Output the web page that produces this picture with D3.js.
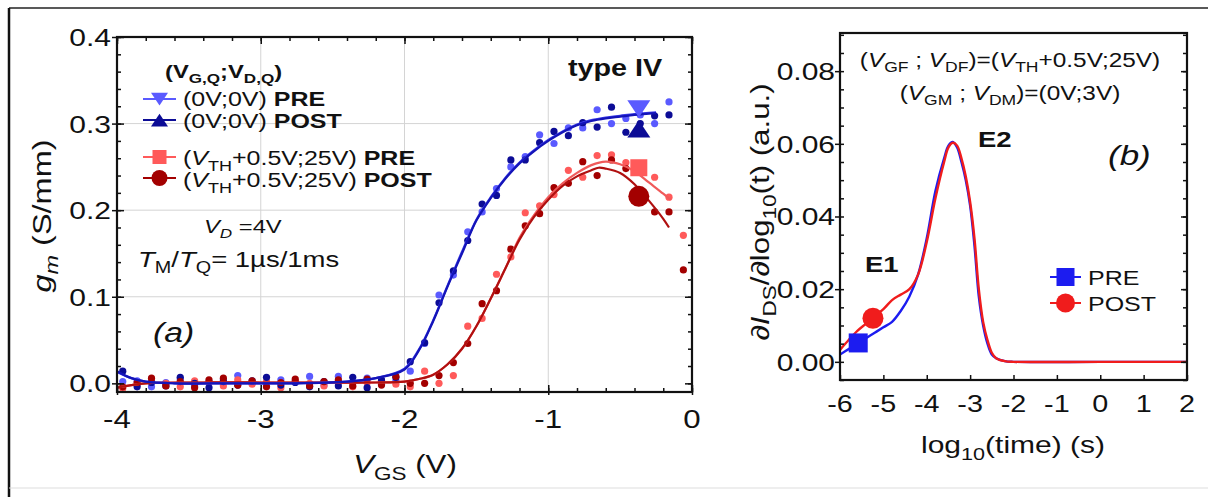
<!DOCTYPE html>
<html>
<head>
<meta charset="utf-8">
<script src="https://cdn.jsdelivr.net/npm/d3@7"></script>
<style>
  body { margin: 0; background: #fff; }
  svg { display: block; }
  text { font-family: "Liberation Sans", Arial, sans-serif; fill: #111; }
</style>
</head>
<body>
<svg id="fig" width="1208" height="497"></svg>
<script>
// ---------------- data : panel (a) ----------------
const vgs = [-3.96,-3.86,-3.76,-3.66,-3.56,-3.46,-3.36,-3.26,-3.16,-3.06,-2.96,-2.86,-2.76,-2.66,-2.56,-2.46,-2.36,-2.26,-2.16,-2.06,
             -1.96,-1.86,-1.76,-1.66,-1.56,-1.46,-1.36,-1.26,-1.16,-1.06,-0.96,-0.86,-0.76,-0.66,-0.56,-0.46,-0.36,-0.26,-0.16,-0.06];
// (0V;0V) PRE  - light blue
const gmBluePre  = [0.002,0.003,-0.004,0.001,0.005,-0.003,0.002,0.004,0.009,0.000,-0.003,0.004,0.002,0.008,-0.002,0.008,0.001,0.006,-0.001,0.003,
                    0.014,0.046,0.102,0.125,0.175,0.198,0.225,0.250,0.262,0.287,0.277,0.295,0.295,0.316,0.300,0.306,0.310,0.300,0.325];
// (0V;0V) POST - dark blue
const gmBluePost = [0.014,-0.004,0.001,-0.003,0.007,0.000,-0.005,0.002,-0.002,0.003,0.007,-0.002,0.001,-0.004,0.002,-0.003,0.007,-0.005,0.004,0.007,
                    0.025,0.047,0.093,0.130,0.165,0.207,0.217,0.258,0.258,0.278,0.291,0.286,0.301,0.296,0.319,0.290,0.300,0.309,0.310];
// (VTH+0.5V;25V) PRE - light red
const gmRedPre   = [-0.006,-0.002,0.003,0.000,-0.004,0.003,0.001,-0.003,0.004,-0.001,0.002,-0.005,0.003,0.000,-0.003,0.002,-0.004,0.001,0.003,-0.001,
                    -0.004,0.014,0.000,0.009,0.066,0.075,0.126,0.146,0.197,0.205,0.218,0.246,0.238,0.263,0.264,0.255,0.250,0.238,0.215,0.171];
// (VTH+0.5V;25V) POST - dark red
const gmRedPost  = [-0.004,0.001,0.006,-0.003,0.002,-0.005,0.004,0.006,-0.002,0.003,-0.004,0.001,0.005,-0.003,0.002,0.004,-0.003,0.005,-0.002,0.008,
                    0.000,0.000,0.009,0.024,0.046,0.092,0.107,0.155,0.182,0.196,0.226,0.231,0.256,0.240,0.258,0.248,0.222,0.198,0.198,0.131];

// fitted curves
const fitBlueV    = [-4.0,-3.9,-3.8,-3.6,-3.2,-2.8,-2.4,-2.2,-2.0,-1.9,-1.8,-1.7,-1.6,-1.5,-1.4,-1.3,-1.2,-1.1,-1.0,-0.9,-0.8,-0.7,-0.6,-0.5,-0.4,-0.25];
const fitBluePre  = [0.013,0.006,0.002,0.000,0.000,0.000,0.002,0.006,0.017,0.039,0.073,0.113,0.152,0.189,0.215,0.237,0.255,0.269,0.281,0.291,0.299,0.304,0.307,0.309,0.311,0.313];
const fitBluePost = [0.014,0.006,0.002,0.000,0.000,0.000,0.002,0.006,0.016,0.038,0.072,0.112,0.150,0.188,0.214,0.236,0.254,0.268,0.280,0.290,0.298,0.303,0.306,0.308,0.310,0.312];
const fitRedPreV  = [-4.0,-3.8,-3.4,-3.0,-2.6,-2.2,-2.0,-1.9,-1.8,-1.7,-1.6,-1.5,-1.4,-1.3,-1.2,-1.1,-1.0,-0.9,-0.8,-0.7,-0.6,-0.5,-0.4,-0.3,-0.2,-0.15];
const fitRedPre   = [-0.005,0.000,0.001,0.001,0.001,0.001,0.002,0.005,0.010,0.022,0.040,0.066,0.098,0.132,0.168,0.194,0.215,0.231,0.243,0.252,0.256,0.253,0.245,0.232,0.219,0.212];
const fitRedPostV = [-4.0,-3.8,-3.4,-3.0,-2.6,-2.2,-2.0,-1.9,-1.8,-1.7,-1.6,-1.5,-1.4,-1.3,-1.2,-1.1,-1.0,-0.9,-0.8,-0.7,-0.65,-0.6,-0.5,-0.4,-0.3,-0.2,-0.16];
const fitRedPost  = [-0.005,0.000,0.001,0.001,0.001,0.001,0.002,0.005,0.010,0.022,0.040,0.066,0.098,0.132,0.166,0.192,0.212,0.228,0.239,0.246,0.249,0.248,0.243,0.230,0.211,0.190,0.180];

// big symbols on panel (a)
const markV = [-0.37, -0.37, -0.37, -0.37];
const markG = [0.317, 0.294, 0.249, 0.216];

// ---------------- data : panel (b) ----------------
const logT  = [-6.0,-5.8,-5.6,-5.4,-5.2,-5.0,-4.8,-4.6,-4.4,-4.2,-4.0,-3.8,-3.6,-3.5,-3.4,-3.3,-3.2,-3.1,-3.0,-2.9,-2.8,-2.7,-2.6,-2.5,-2.4,-2.2,-2.0,0.0,2.0];
const dPre  = [0.0020,0.0035,0.0050,0.0065,0.0080,0.0095,0.0110,0.0140,0.0180,0.0240,0.0340,0.0470,0.0560,0.0595,0.0605,0.0590,0.0550,0.0500,0.0430,0.0320,0.0180,0.0100,0.0050,0.0020,0.0010,0.0002,0,0,0];
const logTPost = [-6.0,-5.8,-5.6,-5.4,-5.2,-5.0,-4.8,-4.6,-4.4,-4.2,-4.0,-3.8,-3.6,-3.5,-3.4,-3.3,-3.2,-3.1,-3.0,-2.9,-2.8,-2.7,-2.6,-2.5,-2.4,-2.2,-2.0,0.0,2.0];
const dPost = [0.0033,0.0060,0.0085,0.0105,0.0125,0.0145,0.0170,0.0185,0.0200,0.0240,0.0330,0.0450,0.0550,0.0590,0.0603,0.0595,0.0560,0.0510,0.0440,0.0340,0.0200,0.0110,0.0060,0.0025,0.0010,0.0002,0,0,0];
const markBT = [-5.58, -5.24];
const markBD = [0.0052, 0.012];

const xTicksA = [-4, -3, -2, -1, 0];
const yTicksA = [0.0, 0.1, 0.2, 0.3, 0.4];
const xTicksB = [-6, -5, -4, -3, -2, -1, 0, 1, 2];
const yTicksB = [0.00, 0.02, 0.04, 0.06, 0.08];

// ---------------- helpers ----------------
const svg = d3.select("#fig");
const INK = "#111";
const SX = 1.25;   // the original lettering is wide: stretch glyphs along the text direction

function rich(g, x, y, parts, size, anchor, rot) {
  const t = g.append("text").attr("x", 0).attr("y", 0)
    .attr("font-size", size).attr("text-anchor", anchor || "start")
    .attr("transform", `translate(${x},${y})` + (rot ? ` rotate(${rot})` : "") + ` scale(${SX},1)`);
  let down = false;
  parts.forEach(([s, f = ""]) => {
    const ts = t.append("tspan").text(s);
    if (f.includes("i")) ts.attr("font-style", "italic");
    if (f.includes("b")) ts.attr("font-weight", "bold");
    if (f.includes("s")) {
      ts.attr("font-size", size * 0.72);
      if (!down) { ts.attr("dy", size * 0.28); down = true; }
    } else if (down) { ts.attr("dy", -size * 0.28); down = false; }
  });
  return t;
}

function tickSet(g, axisFn, scale, vals, size, tr) {
  g.append("g").attr("transform", tr || null)
    .call(axisFn(scale).tickValues(vals).tickSize(size).tickFormat(""))
    .call(s => s.select(".domain").remove())
    .selectAll("line").attr("stroke", INK).attr("stroke-width", 1.5);
}

function marker(g, type, x, y, s, fill) {
  if (type === "circle") {
    g.append("circle").attr("cx", x).attr("cy", y).attr("r", s / 2).attr("fill", fill);
  } else if (type === "square") {
    g.append("rect").attr("x", x - s / 2).attr("y", y - s / 2).attr("width", s).attr("height", s).attr("fill", fill);
  } else if (type === "tridown") {
    const h = s * 0.75;
    g.append("path").attr("d", `M${x - s / 2},${y - h / 2}L${x + s / 2},${y - h / 2}L${x},${y + h / 2}Z`).attr("fill", fill);
  } else if (type === "triup") {
    const h = s * 0.75;
    g.append("path").attr("d", `M${x - s / 2},${y + h / 2}L${x + s / 2},${y + h / 2}L${x},${y - h / 2}Z`).attr("fill", fill);
  }
}

// ---------------- outer frame ----------------
svg.append("line").attr("x1", 9).attr("x2", 1208).attr("y1", 8).attr("y2", 8).attr("stroke", "#222").attr("stroke-width", 1.5);
svg.append("line").attr("x1", 9).attr("x2", 9).attr("y1", 8).attr("y2", 497).attr("stroke", "#111").attr("stroke-width", 2.5);
svg.append("line").attr("x1", 9).attr("x2", 1208).attr("y1", 488).attr("y2", 488).attr("stroke", "#ddd").attr("stroke-width", 1);

// ---------------- panel (a) ----------------
const A = { l: 117, r: 692, t: 37, b: 392 };
const xA = d3.scaleLinear().domain([-4, 0]).range([A.l, A.r]);
const yA = d3.scaleLinear().domain([-0.01, 0.4]).range([A.b, A.t]);
const gA = svg.append("g");

// grid
gA.selectAll("line.gx").data([-3, -2, -1]).join("line")
  .attr("x1", d => xA(d)).attr("x2", d => xA(d)).attr("y1", A.t).attr("y2", A.b)
  .attr("stroke", "#d4d4d4").attr("stroke-width", 1);
gA.selectAll("line.gy").data([0.1, 0.2, 0.3]).join("line")
  .attr("x1", A.l).attr("x2", A.r).attr("y1", d => yA(d)).attr("y2", d => yA(d))
  .attr("stroke", "#d4d4d4").attr("stroke-width", 1);

svg.append("clipPath").attr("id", "clipA").append("rect")
  .attr("x", A.l).attr("y", A.t).attr("width", A.r - A.l).attr("height", A.b - A.t);
const plotA = gA.append("g").attr("clip-path", "url(#clipA)");

const colBluePre = "#5a5aff", colBluePost = "#0c0c96", colRedPre = "#ff5a5a", colRedPost = "#a30000";

const scatter = [
  { g: gmBluePre, c: colBluePre },
  { g: gmRedPre, c: colRedPre },
  { g: gmBluePost, c: colBluePost },
  { g: gmRedPost, c: colRedPost }
];
scatter.forEach(s => {
  plotA.append("g").selectAll("circle").data(s.g).join("circle")
    .attr("cx", (d, i) => xA(vgs[i])).attr("cy", d => yA(d)).attr("r", 3.6).attr("fill", s.c);
});

const lineA = d3.line().curve(d3.curveCatmullRom.alpha(0.5));
const fits = [
  { v: fitRedPreV, g: fitRedPre, c: "#f05a5a" },
  { v: fitRedPostV, g: fitRedPost, c: "#b01010" },
  { v: fitBlueV, g: fitBluePre, c: "#3a3ae8" },
  { v: fitBlueV, g: fitBluePost, c: "#1414b8" }
];
fits.forEach(f => {
  plotA.append("path").attr("d", lineA(f.v.map((v, i) => [xA(v), yA(f.g[i])])))
    .attr("fill", "none").attr("stroke", f.c).attr("stroke-width", 2.2);
});

// big symbols
marker(gA, "tridown", xA(markV[0]), yA(markG[0]), 23, colBluePre);
marker(gA, "triup", xA(markV[1]), yA(markG[1]), 23, colBluePost);
marker(gA, "square", xA(markV[2]), yA(markG[2]), 17, colRedPre);
marker(gA, "circle", xA(markV[3]), yA(markG[3]), 21, colRedPost);

// frame + ticks
tickSet(gA, d3.axisBottom, xA, d3.range(-4, 0.01, 0.2), -4, `translate(0,${A.b})`);
tickSet(gA, d3.axisBottom, xA, xTicksA, -7, `translate(0,${A.b})`);
tickSet(gA, d3.axisBottom, xA, xTicksA, 3, `translate(0,${A.b})`);
tickSet(gA, d3.axisTop, xA, d3.range(-4, 0.01, 0.2), -4, `translate(0,${A.t})`);
tickSet(gA, d3.axisTop, xA, xTicksA, -7, `translate(0,${A.t})`);
tickSet(gA, d3.axisLeft, yA, d3.range(0, 0.401, 0.02), -4, `translate(${A.l},0)`);
tickSet(gA, d3.axisLeft, yA, yTicksA, 5, `translate(${A.l},0)`);
tickSet(gA, d3.axisLeft, yA, yTicksA, -7, `translate(${A.l},0)`);
tickSet(gA, d3.axisRight, yA, d3.range(0, 0.401, 0.02), -4, `translate(${A.r},0)`);
tickSet(gA, d3.axisRight, yA, yTicksA, -7, `translate(${A.r},0)`);
gA.append("rect").attr("x", A.l).attr("y", A.t).attr("width", A.r - A.l).attr("height", A.b - A.t)
  .attr("fill", "none").attr("stroke", INK).attr("stroke-width", 2.2);

// tick labels
xTicksA.forEach(d => rich(gA, xA(d), 428, [[String(d)]], 25, "middle"));
yTicksA.forEach(d => rich(gA, A.l - 6, yA(d) + 9, [[d3.format(".1f")(d)]], 24, "end"));

// axis titles
rich(gA, 405, 473, [["V", "i"], ["GS", "s"], [" (V)"]], 25, "middle");
rich(gA, 51, 216, [["g", "i"], ["m", "is"], [" (S/mm)"]], 26, "middle", -90);

// legend (a)
rich(gA, 165, 78, [["(V", "b"], ["G,Q", "bs"], [";V", "b"], ["D,Q", "bs"], [")", "b"]], 19);
const legA = [
  { y: 99,  m: "tridown", c: colBluePre,  s: 17, base: 106, parts: [["(0V;0V) "], ["PRE", "b"]] },
  { y: 120, m: "triup",   c: colBluePost, s: 17, base: 128, parts: [["(0V;0V) "], ["POST", "b"]] },
  { y: 157, m: "square",  c: colRedPre,   s: 14, base: 165, parts: [["("], ["V", "i"], ["TH", "s"], ["+0.5V;25V) "], ["PRE", "b"]] },
  { y: 178, m: "circle",  c: colRedPost,  s: 16, base: 187, parts: [["("], ["V", "i"], ["TH", "s"], ["+0.5V;25V) "], ["POST", "b"]] }
];
legA.forEach(r => {
  gA.append("line").attr("x1", 143).attr("x2", 176).attr("y1", r.y).attr("y2", r.y)
    .attr("stroke", r.c).attr("stroke-width", 2);
  marker(gA, r.m, 159.5, r.y, r.s, r.c);
  rich(gA, 183, r.base, r.parts, 20);
});

rich(gA, 204, 233, [["V", "i"], ["D", "is"], [" =4V"]], 19);
rich(gA, 138, 267, [["T", "i"], ["M", "s"], ["/"], ["T", "i"], ["Q", "s"], ["= 1\u00b5s/1ms"]], 22);
rich(gA, 153, 342, [["(a)", "i"]], 27);
rich(gA, 568, 76, [["type IV", "b"]], 23);

// ---------------- panel (b) ----------------
const B = { l: 840, r: 1187, t: 33, b: 380 };
const xB = d3.scaleLinear().domain([-6, 2]).range([B.l, B.r]);
const yB = d3.scaleLinear().domain([-0.005, 0.0905]).range([B.b, B.t]);
const gB = svg.append("g");
svg.append("clipPath").attr("id", "clipB").append("rect")
  .attr("x", B.l).attr("y", B.t).attr("width", B.r - B.l).attr("height", B.b - B.t);
const plotB = gB.append("g").attr("clip-path", "url(#clipB)");

const colPre = "#1c1cf0", colPost = "#f01c1c";
const lineB = d3.line().curve(d3.curveCatmullRom.alpha(0.5));
plotB.append("path").attr("d", lineB(logT.map((t, i) => [xB(t), yB(dPre[i])])))
  .attr("fill", "none").attr("stroke", colPre).attr("stroke-width", 2.4);
plotB.append("path").attr("d", lineB(logTPost.map((t, i) => [xB(t), yB(dPost[i])])))
  .attr("fill", "none").attr("stroke", colPost).attr("stroke-width", 2.4);

marker(gB, "square", xB(markBT[0]), yB(markBD[0]), 19, colPre);
marker(gB, "circle", xB(markBT[1]), yB(markBD[1]), 21, colPost);

tickSet(gB, d3.axisBottom, xB, xTicksB, -5, `translate(0,${B.b})`);
tickSet(gB, d3.axisLeft, yB, d3.range(-0.005, 0.0901, 0.005), -4, `translate(${B.l},0)`);
tickSet(gB, d3.axisLeft, yB, yTicksB, 5, `translate(${B.l},0)`);
tickSet(gB, d3.axisRight, yB, d3.range(-0.005, 0.0901, 0.005), -4, `translate(${B.r},0)`);
tickSet(gB, d3.axisRight, yB, yTicksB, -6, `translate(${B.r},0)`);
gB.append("rect").attr("x", B.l).attr("y", B.t).attr("width", B.r - B.l).attr("height", B.b - B.t)
  .attr("fill", "none").attr("stroke", INK).attr("stroke-width", 2.2);

xTicksB.forEach(d => rich(gB, xB(d), 412, [[String(d)]], 23, "middle"));
yTicksB.forEach(d => rich(gB, B.l - 5, yB(d) + 9, [[d3.format(".2f")(d)]], 24, "end"));

rich(gB, 1013, 453, [["log"], ["10", "s"], ["(time) (s)"]], 24, "middle");
rich(gB, 769, 212, [["\u2202"], ["I", "i"], ["DS", "s"], ["/\u2202log"], ["10", "s"], ["(t) (a.u.)"]], 25, "middle", -90);

rich(gB, 1010, 67, [["("], ["V", "i"], ["GF", "s"], [" ; "], ["V", "i"], ["DF", "s"], [")=("], ["V", "i"], ["TH", "s"], ["+0.5V;25V)"]], 19.5, "middle");
rich(gB, 1010, 100, [["("], ["V", "i"], ["GM", "s"], [" ; "], ["V", "i"], ["DM", "s"], [")=(0V;3V)"]], 19.5, "middle");
rich(gB, 978, 147, [["E2", "b"]], 22);
rich(gB, 865, 272, [["E1", "b"]], 22);
rich(gB, 1108, 165, [["(b)", "i"]], 28);

// legend (b)
[{ y: 277, m: "square", c: colPre, s: 18, txt: "PRE" }, { y: 303, m: "circle", c: colPost, s: 19, txt: "POST" }]
  .forEach(r => {
    gB.append("line").attr("x1", 1050).attr("x2", 1081).attr("y1", r.y).attr("y2", r.y)
      .attr("stroke", r.c).attr("stroke-width", 2);
    marker(gB, r.m, 1065.5, r.y, r.s, r.c);
    rich(gB, 1088, r.y + 8, [[r.txt]], 20);
  });
</script>
</body>
</html>
